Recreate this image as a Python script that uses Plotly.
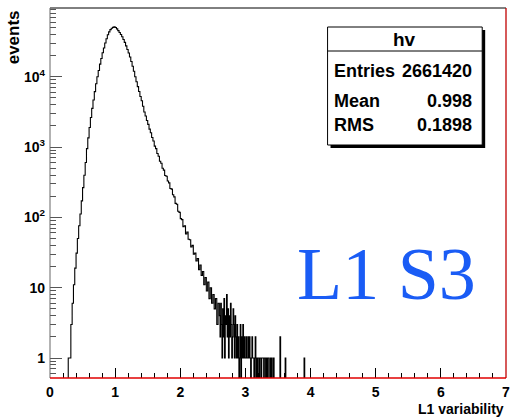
import numpy as np
import plotly.graph_objects as go

# ---------------- data ----------------
# histogram part A: bins of width 0.02 starting at 0.26
bin_width_a = 0.02
start_a = 0.26
counts_a = [
    0, 1, 1, 3, 6, 11, 19, 31, 50, 76,
    112, 172, 265, 398, 604, 950, 1350, 1900, 2630, 3550,
    4680, 6150, 7950, 10000, 12300, 15100, 18200, 21900, 25700, 30200,
    34700, 39600, 43500, 46800, 49000, 50300, 51200,
    50200, 48000, 45300, 42600, 39800, 37100, 33900, 30800, 27500, 24400,
    21800, 19100, 16500, 14100, 12000, 10000, 8500, 7230, 6180, 5240,
    4560, 3810, 3150, 2760, 2390, 2100, 1800, 1600, 1370, 1220,
    1030, 950, 810, 740, 630, 590, 500, 470, 395, 385,
    330, 310, 258, 252, 210, 196, 158, 154, 122, 118,
    96, 93, 74, 76, 58, 62, 49, 48, 38, 40,
    30, 31, 24, 26, 18, 21, 15, 17, 11, 14,
    9, 12, 7, 10, 6, 8, 5, 7, 3, 6,
]
# histogram part B: bins of width 0.01 starting at 2.60
bin_width_b = 0.01
start_b = 2.60
counts_b = [
    4, 2, 6, 3, 1, 5, 2, 7, 1, 4,
    3, 8, 2, 5, 1, 4, 2, 6, 3, 1,
    2, 5, 3, 1, 4, 2, 1, 3, 1, 2,
    0, 1, 3, 0, 2, 1, 3, 1, 2, 1,
    1, 2, 1, 1, 2, 1, 2, 1, 0, 1,
    2, 1, 1, 0, 1, 2, 0, 1, 0, 1,
    1, 0, 1, 1, 0, 1, 1, 1, 0, 1,
    1, 0, 1, 0, 1, 1, 0, 0, 1, 0,
    1, 0, 0, 1, 0, 0, 0, 0, 0, 0,
    0, 0, 0, 2, 0, 0, 0, 0, 0, 0,
    0, 1, 0, 0, 0, 0, 0, 0, 0, 0,
    0, 0, 0, 0, 0, 0, 0, 0, 0, 0,
    0, 0, 0, 0, 0, 0, 0, 0, 0, 0,
    1, 0, 0, 0, 0,
]

x_range = [0, 7]
x_tick_vals = [0, 1, 2, 3, 4, 5, 6, 7]
y_range = [0.52, 95000]

x_title = "L1 variability"
y_title = "events"
y_tick_vals = [1, 10, 100, 1000, 10000]
y_tick_text = ["1", "10", "10<sup>2</sup>", "10<sup>3</sup>", "10<sup>4</sup>"]

stats_title = "hv"
stats_labels = ["Entries", "Mean", "RMS"]
stats_values = ["2661420", "0.998", "0.1898"]
label_text = "L1 S3"

# ---------------- build step line ----------------
left_a = np.round(start_a + bin_width_a * np.arange(len(counts_a)), 4)
left_b = np.round(start_b + bin_width_b * np.arange(len(counts_b)), 4)
end_b = round(start_b + bin_width_b * len(counts_b), 4)
xs = np.concatenate([left_a, left_b, [end_b, x_range[1]]])
ys = np.array(counts_a + counts_b + [0, 0], dtype=float)
ys[ys <= 0] = 1e-3  # empty bins drop below the axis floor

W, H = 512, 419
L, R, T, B = 50, 2, 8, 41
pw, ph = W - L - R, H - T - B


def px(xp):
    return (xp - L) / pw


def py(yp):
    return (H - B - yp) / ph


FONT = "Liberation Sans, Arial, Helvetica, sans-serif"

fig = go.Figure()
fig.add_trace(go.Scatter(
    x=xs, y=ys, mode="lines", line=dict(color="black", width=1.1, shape="hv"),
    hoverinfo="skip", showlegend=False,
))

minor_y = []
for d in range(-1, 5):
    for m in range(2, 10):
        v = m * 10 ** d
        if y_range[0] < v < y_range[1]:
            minor_y.append(v)

fig.update_layout(
    width=W, height=H, margin=dict(l=L, r=R, t=T, b=B),
    paper_bgcolor="white", plot_bgcolor="white",
    xaxis=dict(
        range=x_range, showgrid=False, zeroline=False, showline=False,
        ticks="inside", ticklen=10, tickcolor="black", tickwidth=1,
        tickmode="array", tickvals=x_tick_vals,
        minor=dict(ticks="inside", ticklen=5, tick0=0, dtick=0.2, tickcolor="black", showgrid=False),
        tickfont=dict(family=FONT, size=14, color="black", weight="bold"),
        ticklabelstandoff=4, ticklabeloverflow="allow",
    ),
    yaxis=dict(
        type="log", range=[np.log10(y_range[0]), np.log10(y_range[1])],
        showgrid=False, zeroline=False, showline=False,
        tickmode="array", tickvals=y_tick_vals, ticktext=y_tick_text,
        ticks="inside", ticklen=12, tickcolor="#555555", tickwidth=1,
        minor=dict(ticks="inside", ticklen=6, tickmode="array", tickvals=minor_y,
                   tickcolor="#555555", showgrid=False),
        tickfont=dict(family=FONT, size=14, color="black", weight="bold"),
        ticklabelstandoff=4, ticklabeloverflow="allow",
    ),
)

shapes = [
    dict(type="line", xref="paper", yref="paper", x0=0, x1=1, y0=1, y1=1,
         line=dict(color="black", width=1), layer="above"),
    dict(type="line", xref="paper", yref="paper", x0=0, x1=0, y0=0, y1=1,
         line=dict(color="#666666", width=1), layer="above"),
    dict(type="line", xref="paper", yref="paper", x0=0, x1=1, y0=0, y1=0,
         line=dict(color="#e00000", width=1.3), layer="above"),
    dict(type="line", xref="paper", yref="paper", x0=1, x1=1, y0=0, y1=1,
         line=dict(color="#c00000", width=1.3), layer="above"),
    # stats box shadow + box
    dict(type="rect", xref="paper", yref="paper", x0=px(333), x1=px(489), y0=py(148), y1=py(30),
         fillcolor="black", line=dict(width=0), layer="above"),
    dict(type="rect", xref="paper", yref="paper", x0=px(330), x1=px(486), y0=py(145), y1=py(27),
         fillcolor="white", line=dict(color="black", width=1), layer="above"),
    dict(type="line", xref="paper", yref="paper", x0=px(330), x1=px(486), y0=py(51), y1=py(51),
         line=dict(color="black", width=1), layer="above"),
]
fig.update_layout(shapes=shapes)

bold = dict(family=FONT, size=18, color="black", weight="bold")
ann = [
    dict(text=stats_title, x=px(408), y=py(39), xanchor="center", yanchor="middle",
         font=dict(family=FONT, size=19, color="black", weight="bold")),
]
row_y = [71, 101, 125]
for lab, val, yy in zip(stats_labels, stats_values, row_y):
    ann.append(dict(text=lab, x=px(334), y=py(yy), xanchor="left", yanchor="middle", font=bold))
    ann.append(dict(text=val, x=px(478), y=py(yy), xanchor="right", yanchor="middle", font=bold))

ann.append(dict(text=x_title, x=1, y=py(409), xanchor="right", yanchor="middle",
                font=dict(family=FONT, size=14, color="black", weight="bold")))
ann.append(dict(text=y_title, x=px(13), y=1, xanchor="center", yanchor="top", textangle=-90,
                font=dict(family=FONT, size=17, color="black", weight="bold")))
ann.append(dict(text=label_text, x=px(297), y=py(274), xanchor="left", yanchor="middle",
                font=dict(family="Liberation Serif, Times New Roman, serif", size=74, color="#1a5cf5")))

for a in ann:
    a.update(xref="paper", yref="paper", showarrow=False)
fig.update_layout(annotations=ann)

fig.write_html("out.html")
